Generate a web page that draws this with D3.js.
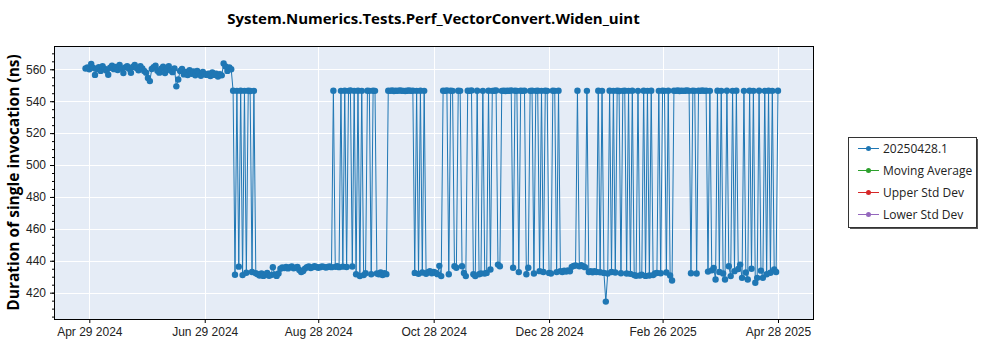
<!DOCTYPE html>
<html>
<head>
<meta charset="utf-8">
<script src="https://cdn.jsdelivr.net/npm/d3@7"></script>
<style>
  body { margin: 0; background: #fff; }
  svg { display: block; font-family: "Open Sans", "Noto Sans", "DejaVu Sans", sans-serif; }
</style>
</head>
<body>
<svg id="chart" width="1000" height="350"></svg>
<script>
// ---- data ----
const chartTitle = "System.Numerics.Tests.Perf_VectorConvert.Widen_uint";
const yAxisTitle = "Duration of single invocation (ns)";
const legendNames = ["20250428.1", "Moving Average", "Upper Std Dev", "Lower Std Dev"];
const legendColors = ["#1f77b4", "#2ca02c", "#d62728", "#9467bd"];

// one benchmark run per day, starting on this date
const firstRunDate = "2024-04-27";
// duration of a single invocation (ns), one value per daily run
const durations = [
  560.5, 561.2,
  560.0, 563.4, 561.0, 556.5, 560.2, 561.3, 559.0, 562.0, 560.4, 559.2,
  556.6, 561.0, 562.3, 560.1, 561.4, 559.6, 562.8, 560.5, 557.6, 561.2,
  562.0, 560.3, 557.8, 561.5, 562.7, 560.8, 559.4, 561.9, 560.6, 559.0,
  557.9, 554.6, 552.6, 560.2, 561.3, 562.2, 559.1, 557.9, 560.4, 561.6,
  557.6, 560.1, 562.0, 559.3, 558.2, 560.5, 549.3, 553.6, 559.0, 560.2,
  556.8, 558.3, 556.4, 559.4, 557.2, 558.6, 556.2, 559.0, 557.5, 556.0,
  558.3, 557.0, 556.5, 557.3, 555.8, 558.1, 556.5, 557.2, 555.5, 557.0,
  556.2, 563.6, 561.8, 559.0, 561.2, 560.0,
  // mid July: switching between two levels
  546.6, 431.2, 546.5, 436.3, 546.6, 431.0, 546.5, 432.5, 546.6, 546.4, 433.0, 546.5, 432.2,
  431.5, 430.8, 432.0, 430.5, 431.2, 432.4, 430.6, 431.0, 436.0, 431.4, 430.5, 432.0,
  435.0, 435.8, 435.4, 436.1, 435.2, 436.0, 436.5, 435.3, 435.6, 436.2,
  434.2, 433.0, 433.6, 435.1, 436.0, 436.4, 435.5, 436.0, 436.6, 436.1,
  435.6, 436.0, 436.5, 436.2, 435.7, 436.1, 436.5, 436.0,
  546.6, 436.2, 436.6, 436.0,
  546.5, 436.3, 546.6, 436.1, 546.5, 546.7, 436.4, 546.5, 431.5, 546.6, 430.4, 546.5, 431.0, 432.2,
  546.6, 546.5, 431.5, 546.6, 546.5, 432.0, 431.5, 432.6, 431.0, 432.2, 431.6,
  546.6, 546.5, 546.7, 546.4, 546.6, 546.5, 546.8, 546.6, 546.5, 546.4, 546.6, 546.7, 546.5, 546.6,
  432.4, 546.5, 431.8, 546.6, 432.6, 546.5, 431.9,
  432.8, 433.4, 432.1, 433.0, 432.5, 431.6,
  436.8, 430.4,
  546.6, 546.5, 546.7, 431.5, 546.6, 546.5, 436.6, 435.6, 546.6, 546.5,
  436.6, 432.4, 430.4, 546.6, 546.5, 546.7, 431.5, 430.4, 546.6, 431.5,
  432.0, 546.5, 432.0, 432.4, 546.6, 434.5, 546.5, 546.6, 546.7, 437.6,
  436.6, 546.5, 546.6, 546.4, 546.6, 546.5, 546.7, 435.6, 546.6, 546.5,
  432.9, 546.6, 546.5, 546.6, 431.5, 435.6, 546.5, 546.6, 432.0, 546.5,
  546.6, 433.5, 546.5, 433.0, 546.6, 546.5, 432.4, 432.0, 546.6, 546.5,
  432.9, 546.6,
  433.5, 433.0, 433.8, 433.2, 434.0, 433.4, 436.2, 436.8, 437.0, 546.6,
  436.5, 437.2, 436.6, 436.0, 546.5, 433.0, 433.5, 432.8, 433.4, 433.0,
  546.6, 432.8, 546.5, 432.4, 414.4, 432.0, 546.6, 433.0, 546.5, 432.6,
  546.6, 546.4, 432.2, 546.5, 546.6, 432.0, 546.5, 431.8, 546.6, 431.0,
  430.6, 546.5, 430.8, 431.2, 546.6, 430.5, 546.5, 430.8, 546.6, 431.0,
  432.0, 432.4, 546.5, 432.2, 546.6, 546.5, 432.6, 546.6,
  430.8, 427.6, 546.6, 546.5, 546.7, 546.4, 546.6, 546.5, 546.6, 546.8,
  546.5, 432.2, 546.6, 546.5, 432.0, 546.6, 546.5, 546.7, 546.5, 546.6,
  433.2, 546.5, 434.0, 435.5, 428.3, 546.6, 433.0, 546.5, 432.0, 428.3,
  546.6, 436.6, 430.4, 546.5, 433.5, 546.6, 434.8, 437.6, 429.3, 546.5,
  432.6, 428.3, 546.6, 435.0, 546.5, 426.2, 429.3, 546.6, 433.8, 429.3,
  546.5, 431.5, 546.6, 432.5, 546.5, 434.6, 433.0, 546.6
];

const yTicks = [420, 440, 460, 480, 500, 520, 540, 560];
const xTickDates = ["2024-04-29", "2024-06-29", "2024-08-28", "2024-10-28", "2024-12-28", "2025-02-26", "2025-04-28"];
const xTickLabels = ["Apr 29 2024", "Jun 29 2024", "Aug 28 2024", "Oct 28 2024", "Dec 28 2024", "Feb 26 2025", "Apr 28 2025"];

// ---- layout ----
const plot = { left: 54, top: 46, right: 813, bottom: 319 };
const parseDay = d3.utcParse("%Y-%m-%d");
const start = parseDay(firstRunDate);
const points = durations.map((v, i) => ({ date: d3.utcDay.offset(start, i), value: v }));

const x = d3.scaleUtc()
  .domain([new Date(Date.UTC(2024, 3, 10, 8)), new Date(Date.UTC(2025, 4, 16, 12))])
  .range([plot.left, plot.right]);
const y = d3.scaleLinear()
  .domain([403.5, 574.6])
  .range([plot.bottom, plot.top]);

const svg = d3.select("#chart");

// title
svg.append("text")
  .attr("x", (plot.left + plot.right) / 2)
  .attr("y", 24)
  .attr("text-anchor", "middle")
  .attr("font-size", 15)
  .attr("font-weight", "bold")
  .attr("fill", "#000")
  .text(chartTitle);

// plot background
svg.append("rect")
  .attr("x", plot.left).attr("y", plot.top)
  .attr("width", plot.right - plot.left).attr("height", plot.bottom - plot.top)
  .attr("fill", "#e5ecf6");

// grid
const grid = svg.append("g").attr("stroke", "#fff").attr("stroke-width", 1);
grid.selectAll("line.h").data(yTicks).join("line")
  .attr("x1", plot.left).attr("x2", plot.right)
  .attr("y1", d => Math.round(y(d)) + 0.5).attr("y2", d => Math.round(y(d)) + 0.5);
grid.selectAll("line.v").data(xTickDates).join("line")
  .attr("y1", plot.top).attr("y2", plot.bottom)
  .attr("x1", d => Math.round(x(parseDay(d))) + 0.5).attr("x2", d => Math.round(x(parseDay(d))) + 0.5);

// series
svg.append("clipPath").attr("id", "plotClip")
  .append("rect")
  .attr("x", plot.left).attr("y", plot.top)
  .attr("width", plot.right - plot.left).attr("height", plot.bottom - plot.top);

const series = svg.append("g").attr("clip-path", "url(#plotClip)");
series.append("path")
  .datum(points)
  .attr("fill", "none")
  .attr("stroke", legendColors[0])
  .attr("stroke-width", 1)
  .attr("d", d3.line().x(d => x(d.date)).y(d => y(d.value)));
series.selectAll("circle").data(points).join("circle")
  .attr("cx", d => x(d.date))
  .attr("cy", d => y(d.value))
  .attr("r", 3.2)
  .attr("fill", legendColors[0]);

// frame
svg.append("rect")
  .attr("x", plot.left + 0.5).attr("y", plot.top + 0.5)
  .attr("width", plot.right - plot.left).attr("height", plot.bottom - plot.top)
  .attr("fill", "none").attr("stroke", "#000").attr("stroke-width", 1);

// y axis
const yAxis = svg.append("g")
  .attr("transform", `translate(${plot.left},0)`)
  .call(d3.axisLeft(y).tickValues(yTicks).tickSize(4).tickPadding(4));
const yMinor = svg.append("g")
  .attr("transform", `translate(${plot.left},0)`)
  .call(d3.axisLeft(y).tickValues(d3.range(405, 575, 5)).tickSize(2).tickFormat(""));
[yAxis, yMinor].forEach(g => g.select(".domain").remove());
yAxis.selectAll("text").attr("font-size", 12).attr("fill", "#222").attr("font-family", null);

// x axis
const xAxis = svg.append("g")
  .attr("transform", `translate(0,${plot.bottom})`)
  .call(d3.axisBottom(x)
    .tickValues(xTickDates.map(parseDay))
    .tickFormat((d, i) => xTickLabels[i])
    .tickSize(4).tickPadding(4));
xAxis.select(".domain").remove();
xAxis.selectAll("text").attr("font-size", 12).attr("fill", "#222").attr("font-family", null);
svg.selectAll(".tick line").attr("stroke", "#000");

// y axis title
svg.append("text")
  .attr("transform", `translate(19,${(plot.top + plot.bottom) / 2}) rotate(-90)`)
  .attr("text-anchor", "middle")
  .attr("font-size", 15.5)
  .attr("font-weight", "bold")
  .attr("fill", "#000")
  .text(yAxisTitle);

// legend
const lg = { x: 848, y: 137, w: 128, h: 90 };
svg.append("rect")
  .attr("x", lg.x + 2).attr("y", lg.y + 2).attr("width", lg.w).attr("height", lg.h)
  .attr("fill", "#555");
svg.append("rect")
  .attr("x", lg.x + 0.5).attr("y", lg.y + 0.5).attr("width", lg.w).attr("height", lg.h)
  .attr("fill", "#fff").attr("stroke", "#333").attr("stroke-width", 1);
const items = svg.append("g").selectAll("g").data(legendNames).join("g")
  .attr("transform", (d, i) => `translate(${lg.x},${lg.y + 11.5 + i * 22})`);
items.append("line")
  .attr("x1", 10).attr("x2", 31).attr("y1", 0).attr("y2", 0)
  .attr("stroke", (d, i) => legendColors[i]).attr("stroke-width", 1);
items.append("circle")
  .attr("cx", 20.5).attr("cy", 0).attr("r", 2.5)
  .attr("fill", (d, i) => legendColors[i]);
items.append("text")
  .attr("x", 35).attr("y", 0).attr("dy", "0.35em")
  .attr("font-size", 12).attr("fill", "#222")
  .text(d => d);
</script>
</body>
</html>
